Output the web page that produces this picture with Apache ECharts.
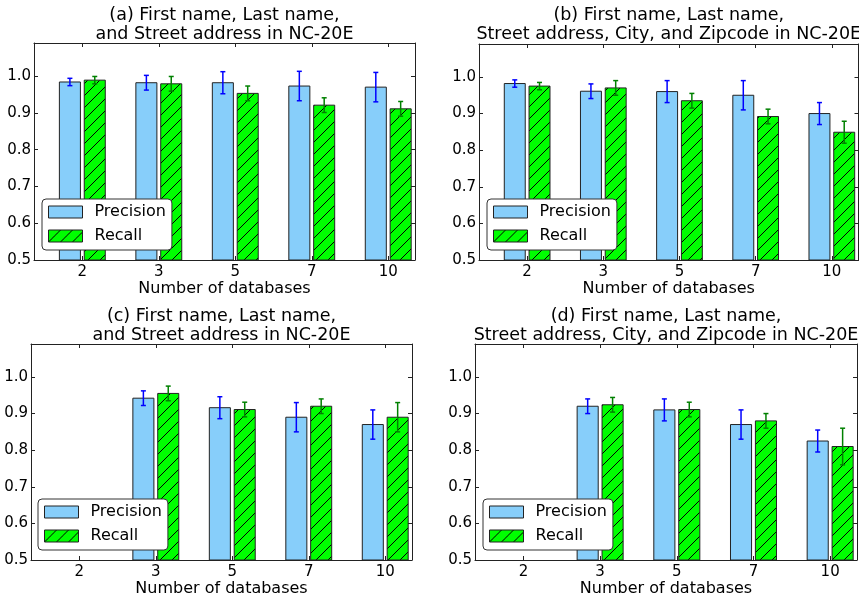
<!DOCTYPE html>
<html><head><meta charset="utf-8">
<script src="https://cdn.jsdelivr.net/npm/echarts@6/dist/echarts.min.js"></script>
<style>html,body{margin:0;padding:0;background:#fff}#c{width:859px;height:599px}</style>
</head><body><div id="c"></div>
<script>
// ---- data ----
const categories = ['2', '3', '5', '7', '10'];
const yTicks = [0.5, 0.6, 0.7, 0.8, 0.9, 1.0];
const seriesNames = ['Precision', 'Recall'];
const xAxisName = 'Number of databases';
const titleA = '(a) First name, Last name,\nand Street address in NC-20E';
const titleB = '(b) First name, Last name,\nStreet address, City, and Zipcode in NC-20E';
const titleC = '(c) First name, Last name,\nand Street address in NC-20E';
const titleD = '(d) First name, Last name,\nStreet address, City, and Zipcode in NC-20E';

const precisionA = [0.984, 0.982, 0.982, 0.973, 0.970];
const precisionErrA = [0.01, 0.02, 0.03, 0.04, 0.04];
const recallA = [0.989, 0.979, 0.953, 0.921, 0.911];
const recallErrA = [0.01, 0.02, 0.02, 0.02, 0.02];

const precisionB = [0.982, 0.961, 0.960, 0.950, 0.900];
const precisionErrB = [0.01, 0.02, 0.03, 0.04, 0.03];
const recallB = [0.975, 0.970, 0.935, 0.892, 0.849];
const recallErrB = [0.01, 0.02, 0.02, 0.02, 0.03];

const precisionC = [null, 0.942, 0.916, 0.890, 0.870];
const precisionErrC = [null, 0.02, 0.03, 0.04, 0.04];
const recallC = [null, 0.955, 0.911, 0.920, 0.890];
const recallErrC = [null, 0.02, 0.02, 0.02, 0.04];

const precisionD = [null, 0.920, 0.910, 0.870, 0.825];
const precisionErrD = [null, 0.02, 0.03, 0.04, 0.03];
const recallD = [null, 0.924, 0.911, 0.880, 0.810];
const recallErrD = [null, 0.02, 0.02, 0.02, 0.05];

// ---- layout / style ----
const Y_MIN = 0.5, Y_MAX = 1.09;
const X_MIN = -0.632, X_MAX = 4.35;
const FONT = 'DejaVu Sans';
const panels = [
  {title: titleA, p: precisionA, pe: precisionErrA, r: recallA, re: recallErrA,
   grid: {left: 34, top: 43, width: 381, height: 217}, lg: [42, 199]},
  {title: titleB, p: precisionB, pe: precisionErrB, r: recallB, re: recallErrB,
   grid: {left: 479, top: 44, width: 379.5, height: 216}, lg: [487, 199]},
  {title: titleC, p: precisionC, pe: precisionErrC, r: recallC, re: recallErrC,
   grid: {left: 31, top: 344, width: 381, height: 216}, lg: [38, 499]},
  {title: titleD, p: precisionD, pe: precisionErrD, r: recallD, re: recallErrD,
   grid: {left: 475, top: 344, width: 382, height: 216}, lg: [483, 499]}
];

function makeHatch() {
  const c = document.createElement('canvas');
  c.width = 12; c.height = 12;
  const g = c.getContext('2d');
  g.fillStyle = '#00ff00'; g.fillRect(0, 0, 12, 12);
  g.strokeStyle = '#000'; g.lineWidth = 1;
  g.beginPath(); g.moveTo(-2, 14); g.lineTo(14, -2); g.stroke();
  return c;
}
const hatch = {image: makeHatch(), repeat: 'repeat'};
const PREC_FILL = '#87cefa';

function renderer(offL, offR, fill, errColor) {
  return function (params, api) {
    const i = api.value(0), v = api.value(1), e = api.value(2);
    const p0 = api.coord([i + offL, v]);
    const p1 = api.coord([i + offR, Y_MIN]);
    const cx = (p0[0] + p1[0]) / 2;
    const yt = api.coord([i, v + e])[1];
    const yb = api.coord([i, v - e])[1];
    const cap = 2.5;
    return {
      type: 'group',
      children: [
        {type: 'rect', shape: {x: p0[0], y: p0[1], width: p1[0] - p0[0], height: p1[1] - p0[1]},
         style: {fill: fill, stroke: '#222', lineWidth: 1}},
        {type: 'line', shape: {x1: cx, y1: yt, x2: cx, y2: yb}, style: {stroke: errColor, lineWidth: 1.5}},
        {type: 'line', shape: {x1: cx - cap, y1: yt, x2: cx + cap, y2: yt}, style: {stroke: errColor, lineWidth: 1.5}},
        {type: 'line', shape: {x1: cx - cap, y1: yb, x2: cx + cap, y2: yb}, style: {stroke: errColor, lineWidth: 1.5}}
      ]
    };
  };
}

function toData(vals, errs) {
  const out = [];
  vals.forEach((v, i) => { if (v != null) out.push([i, v, errs[i]]); });
  return out;
}

const catIdx = categories.map((c, i) => i);
const option = {
  animation: false,
  backgroundColor: '#fff',
  textStyle: {fontFamily: FONT},
  title: [], grid: [], xAxis: [], yAxis: [], legend: [], series: []
};

panels.forEach((pn, k) => {
  const g = pn.grid;
  option.grid.push({left: g.left, top: g.top, width: g.width, height: g.height, containLabel: false});
  option.title.push({
    text: pn.title, left: g.left + g.width / 2, top: (k < 2 ? 43 : 344) - 37, textAlign: 'center', padding: 0,
    textStyle: {fontFamily: FONT, fontSize: 17.5, fontWeight: 'normal', color: '#000', lineHeight: 19}
  });
  const lineStyle = {color: '#222', width: 1};
  const baseX = {gridIndex: k, type: 'value', min: X_MIN, max: X_MAX,
    axisLine: {show: true, onZero: false, lineStyle},
    axisTick: {show: true, inside: true, length: 4, customValues: catIdx, lineStyle},
    splitLine: {show: false}};
  option.xAxis.push(Object.assign({}, baseX, {
    position: 'bottom',
    axisLabel: {customValues: catIdx, formatter: v => categories[Math.round(v)],
      fontSize: 15, color: '#000', margin: 5, fontFamily: FONT},
    name: xAxisName, nameLocation: 'middle', nameGap: 21,
    nameTextStyle: {fontSize: 16, color: '#000', fontFamily: FONT}
  }));
  option.xAxis.push(Object.assign({}, baseX, {position: 'top', axisLabel: {show: false}}));
  const baseY = {gridIndex: k, type: 'value', min: Y_MIN, max: Y_MAX,
    axisLine: {show: true, onZero: false, lineStyle},
    axisTick: {show: true, inside: true, length: 4, customValues: yTicks, lineStyle},
    splitLine: {show: false}};
  option.yAxis.push(Object.assign({}, baseY, {
    position: 'left',
    axisLabel: {customValues: yTicks, formatter: v => v.toFixed(1), fontSize: 15, color: '#000', margin: 3, fontFamily: FONT}
  }));
  option.yAxis.push(Object.assign({}, baseY, {position: 'right', axisLabel: {show: false}}));

  option.series.push({
    type: 'custom', name: seriesNames[0], xAxisIndex: 2 * k, yAxisIndex: 2 * k,
    itemStyle: {color: PREC_FILL, borderColor: '#222', borderWidth: 1},
    renderItem: renderer(-0.30, -0.025, PREC_FILL, '#0000ff'),
    data: toData(pn.p, pn.pe), z: 2
  });
  option.series.push({
    type: 'custom', name: seriesNames[1], xAxisIndex: 2 * k, yAxisIndex: 2 * k,
    itemStyle: {color: hatch, borderColor: '#222', borderWidth: 1},
    renderItem: renderer(0.025, 0.30, hatch, '#008000'),
    data: toData(pn.r, pn.re), z: 2
  });
  option.legend.push({
    left: pn.lg[0], top: pn.lg[1], orient: 'vertical', data: seriesNames, icon: 'rect',
    itemWidth: 34, itemHeight: 12, itemGap: 8, padding: [5, 6, 6, 6],
    backgroundColor: '#fff', borderColor: '#333', borderWidth: 1, borderRadius: 4,
    selectedMode: false, z: 10,
    itemStyle: {borderColor: '#222', borderWidth: 1},
    textStyle: {fontSize: 16, color: '#000', fontFamily: FONT, padding: [0, 0, 0, 7], lineHeight: 16}
  });
});

const chart = echarts.init(document.getElementById('c'), null, {renderer: 'canvas'});
chart.setOption(option);
</script>
</body></html>
